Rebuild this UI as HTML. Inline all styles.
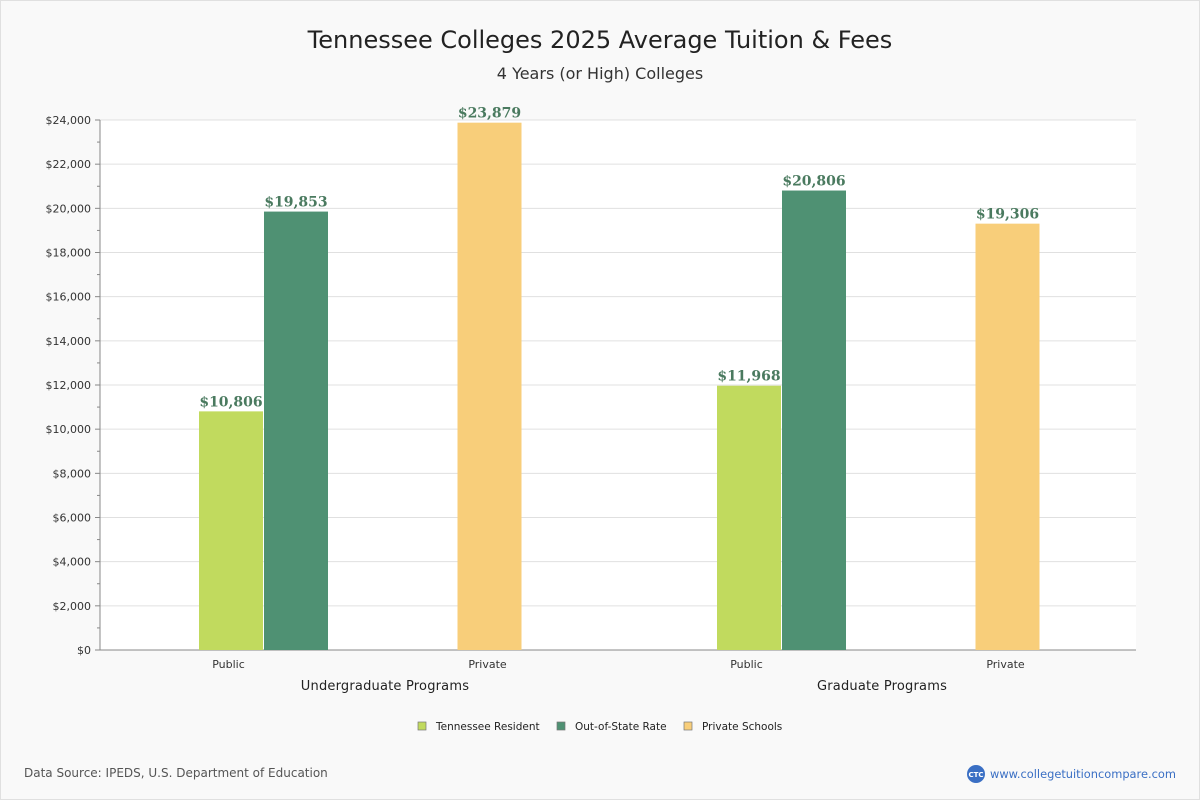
<!DOCTYPE html>
<html><head><meta charset="utf-8"><style>
body{margin:0;background:#f9f9f9;font-family:"DejaVu Sans","Liberation Sans",sans-serif}
#wrap{position:relative;width:1198px;height:798px;border:1px solid #e0e0e0;background:#f9f9f9}
</style></head><body>
<div id="wrap">
<svg id="chart" width="1200" height="800" style="position:absolute;left:-1px;top:-1px"></svg>
</div>
<script>
const categories=["Public","Private","Public","Private"];
const groups=["Undergraduate Programs","Graduate Programs"];
const residentVals=[10806,null,11968,null];
const outStateVals=[19853,null,20806,null];
const privateVals=[null,23879,null,19306];
const yTicks=[0,2000,4000,6000,8000,10000,12000,14000,16000,18000,20000,22000,24000];
const NS="http://www.w3.org/2000/svg";
const svg=document.getElementById('chart');
const X0=100,X1=1136,Y0=650,Y1=120,YMAX=24000;
const y=v=>Y0-(v/YMAX)*(Y0-Y1);
const slotW=(X1-X0)/categories.length;
const xc=i=>X0+slotW*(i+0.5);
function el(tag,attrs,text){const e=document.createElementNS(NS,tag);for(const k in attrs)e.setAttribute(k,attrs[k]);if(text!==undefined)e.textContent=text;svg.appendChild(e);return e;}
const fmt=v=>"$"+v.toLocaleString("en-US");
let t=el('text',{x:600,y:48,'text-anchor':'middle','font-size':24,fill:'#222'},"Tennessee Colleges 2025 Average Tuition & Fees");


t=el('text',{x:600,y:79,'text-anchor':'middle','font-size':16,fill:'#333'},"4 Years (or High)  Colleges");


let r=el('rect',{x:X0,y:Y1,width:X1-X0,height:Y0-Y1,fill:'#fff'});


yTicks.forEach((v,i)=>{
  const g=el('line',{x1:X0,x2:X1,y1:y(v),y2:y(v),stroke:'#e0e0e0'});
  
  
  el('line',{x1:X0-5,x2:X0,y1:y(v),y2:y(v),stroke:'#888'});
  if(i<yTicks.length-1)el('line',{x1:X0-3,x2:X0,y1:y(v+1000),y2:y(v+1000),stroke:'#888'});
  const l=el('text',{x:X0-9,y:y(v)+4,'text-anchor':'end','font-size':11,fill:'#333'},fmt(v));
  
  
});
el('line',{x1:X0,x2:X0,y1:Y1,y2:Y0,stroke:'#888'});
el('line',{x1:X0,x2:X1,y1:Y0,y2:Y0,stroke:'#888'});
const BW=64;
function bar(v,left,color,name){
  if(v==null)return;
  const b=el('rect',{x:left,y:y(v),width:BW,height:Y0-y(v),fill:color});
  
  
  const l=el('text',{x:left+BW/2,y:y(v)-5,'text-anchor':'middle','font-size':14,'font-weight':'bold','font-family':'DejaVu Serif, serif',fill:'#4a7a5f'},fmt(v));
  
  
}
categories.forEach((c,i)=>{
  const cx=xc(i);
  bar(residentVals[i],cx-30.5,'#c1da5e','bar-resident');
  bar(outStateVals[i],cx+34.5,'#4f9173','bar-out-of-state');
  bar(privateVals[i],cx-31,'#f8ce7a','bar-private');
  const l=el('text',{x:cx-1,y:668,'text-anchor':'middle','font-size':11,fill:'#333'},c);
  
  
});
groups.forEach((g,i)=>{
  const l=el('text',{x:X0+(X1-X0)/4*(2*i+1)+26-21*i,y:690,'text-anchor':'middle','font-size':13,fill:'#222','letter-spacing':'0.2'},g);
  
  
});
const legend=[["Tennessee Resident","#c1da5e",418],["Out-of-State Rate","#4f9173",557],["Private Schools","#f8ce7a",684]];
legend.forEach(([n,c,x])=>{
  const s=el('rect',{x:x,y:722,width:8,height:8,fill:c,stroke:'#777','stroke-width':0.7});
  
  
  const l=el('text',{x:x+18,y:730,'font-size':10.5,fill:'#222'},n);
  
  
});
t=el('text',{x:24,y:777,'font-size':12,fill:'#555'},"Data Source: IPEDS, U.S. Department of Education");


const c=el('circle',{cx:976,cy:774,r:9,fill:'#3a6fc4'});


el('text',{x:976,y:777,'text-anchor':'middle','font-size':7,fill:'#fff','font-weight':'bold'},"CTC");
t=el('text',{x:990,y:778,'font-size':11.4,fill:'#3a6fc4'},"www.collegetuitioncompare.com");


</script>
</body></html>
